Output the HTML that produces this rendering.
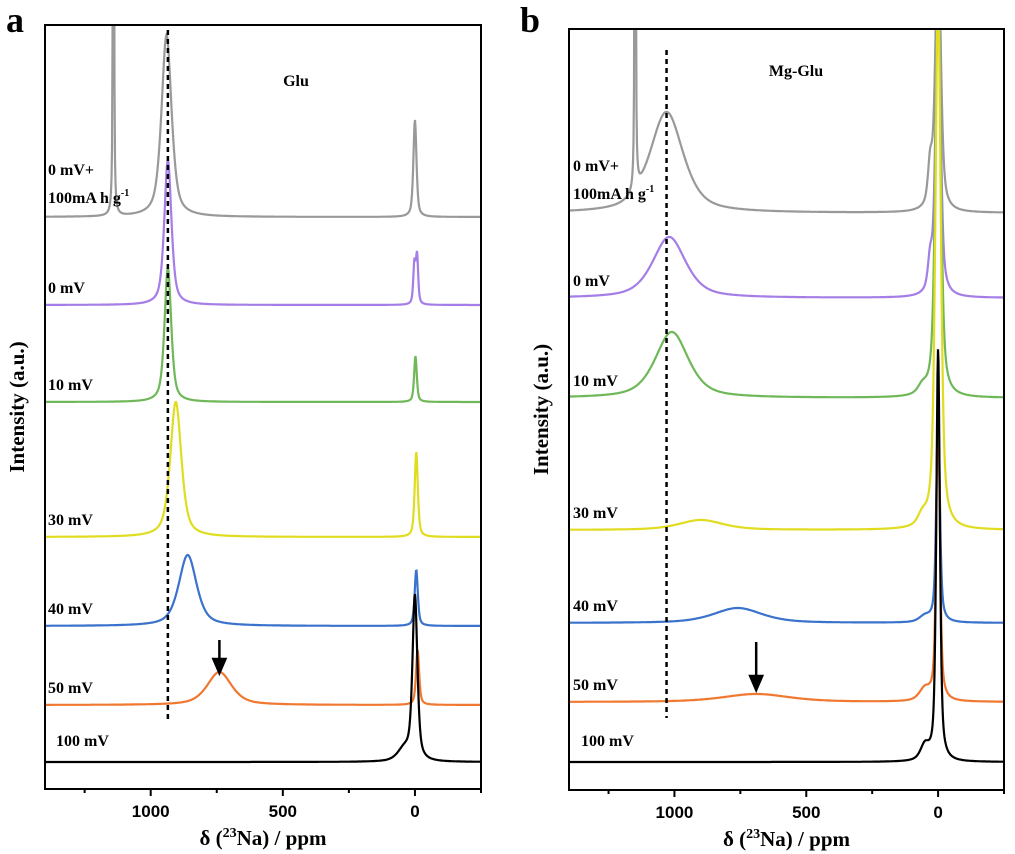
<!DOCTYPE html>
<html><head><meta charset="utf-8"><style>
body{margin:0;background:#fff;width:1015px;height:854px;overflow:hidden}
svg{display:block}
.tk{font:bold 17px "Liberation Sans",sans-serif}
.lb{font:bold 16px "Liberation Serif",serif}
.ax{font:bold 21px "Liberation Serif",serif}
</style></head><body>
<svg id="s" width="1015" height="854"></svg>
<script>
// ----- data: panel a (Glu) -----
const labelsA = ["0 mV+","0 mV","10 mV","30 mV","40 mV","50 mV","100 mV"];
const colorsA = ["#999999","#a47ee6","#6fb85a","#e0dc20","#3a72cc","#f07830","#000000"];
const offsetsA = [572,484,387,252,163,84,27];
// peaks: [center ppm, amplitude, FWHM ppm]
const peaksA = [
 [[940,182,45],[1141,900,4],[0,97,14]],
 [[935,145,32],[2,40,10],[-8,48,10]],
 [[935,134,30],[-2,46,12]],
 [[905,135,50],[-5,85,14]],
 [[860,71,80],[-5,56,14]],
 [[740,33,110],[-10,55,14]],
 [[0,164,22],[40,12,60]]
];
// ----- data: panel b (Mg-Glu) -----
const labelsB = ["0 mV+","0 mV","10 mV","30 mV","40 mV","50 mV","100 mV"];
const colorsB = ["#999999","#a47ee6","#6fb85a","#e0dc20","#3a72cc","#f07830","#000000"];
const offsetsB = [577,492,392,260,167,88,28];
const peaksB = [
 [[1030,101,150],[1149,900,4],[0,280,24],[30,40,20]],
 [[1020,61,150],[0,320,22],[30,30,20]],
 [[1010,66,150],[0,420,24],[60,8,40]],
 [[900,10,200],[0,540,24],[60,10,40]],
 [[760,15,220],[0,213,16],[50,6,50]],
 [[690,8,300],[0,302,16],[50,12,50]],
 [[0,412,16],[50,15,40]]
];
const tickVals = [1000,500,0];
const minorVals = [1250,750,250,-250];

const S=document.getElementById('s');
const NS='http://www.w3.org/2000/svg';
function mk(t,a,p){const e=document.createElementNS(NS,t);for(const k in a)e.setAttribute(k,a[k]);(p||S).appendChild(e);return e;}

function panel(id,L,R,T,B,labels,colors,offsets,peaks,labX,title,titleX,titleY,dashPpm,dashT,dashB,arrowPpm,arrowT,arrowB,ylabX,letter,letterX){
  const g=mk('g',{});
  
  
  const xS=p=>L+(1400-p)/1650*(R-L);
  const yS=v=>B-v;
  const cp=mk('clipPath',{id:'c'+id},g);
  mk('rect',{x:L,y:T,width:R-L,height:B-T},cp);
  for(let i=0;i<offsets.length;i++){
    let d='';
    for(let px=L;px<=R;px+=0.5){
      const p=1400-(px-L)/(R-L)*1650;
      let v=offsets[i];
      for(const pk of peaks[i]){const h=pk[2]/2;const z=(p-pk[0])/h;
        v+=pk[1]*(0.6/(1+z*z)+0.4*Math.exp(-0.693*z*z));}
      d+=(d?'L':'M')+xS(p).toFixed(1)+','+yS(v).toFixed(1);
    }
    const path=mk('path',{d:d,fill:'none',stroke:colors[i],'stroke-width':2.2,'clip-path':'url(#c'+id+')'},g);
    
    
  }
  for(let i=0;i<labels.length;i++){
    const y=B-offsets[i]-12;
    if(i===0){
      const t=mk('text',{x:labX,y:y-30,class:'lb'},g);t.textContent='0 mV+';
      
      const t2=mk('text',{x:labX,y:y-2,class:'lb'},g);
      t2.innerHTML='100mA h g<tspan dy="-7" font-size="10">-1</tspan>';
      
    } else {
      const t=mk('text',{x:labX+(i===6?8:0),y:y-(i===6?4:0),class:'lb'},g);t.textContent=labels[i];
      
      
    }
  }
  const f=mk('rect',{x:L,y:T,width:R-L,height:B-T,fill:'none',stroke:'#000','stroke-width':2},g);
  
  for(const v of tickVals){
    mk('line',{x1:xS(v),x2:xS(v),y1:B,y2:B+7,stroke:'#000','stroke-width':2},g);
    const t=mk('text',{x:xS(v),y:B+28,'text-anchor':'middle',class:'tk'},g);t.textContent=v;
    
  }
  for(const v of minorVals){mk('line',{x1:xS(v),x2:xS(v),y1:B,y2:B+4,stroke:'#000','stroke-width':2},g);}
  const xt=mk('text',{x:(L+R)/2,y:B+56,'text-anchor':'middle',class:'ax'},g);
  xt.innerHTML='δ (<tspan dy="-8" font-size="14">23</tspan><tspan dy="8">Na) / ppm</tspan>';
  
  const yt=mk('text',{x:0,y:0,transform:`translate(${ylabX},${(T+B)/2}) rotate(-90)`,'text-anchor':'middle',class:'ax'},g);
  yt.textContent='Intensity (a.u.)';
  
  const tt=mk('text',{x:titleX,y:titleY,'text-anchor':'middle',class:'lb'},g);tt.textContent=title;
  
  const dl=mk('line',{x1:xS(dashPpm),x2:xS(dashPpm),y1:dashT,y2:dashB,stroke:'#000','stroke-width':2.5,'stroke-dasharray':'5,4'},g);
  
  const ax=xS(arrowPpm);
  const ar=mk('path',{d:`M${ax},${arrowT}V${arrowB-12}M${ax-6},${arrowB-14}L${ax},${arrowB}L${ax+6},${arrowB-14}Z`,stroke:'#000','stroke-width':2.5,fill:'#000'},g);
  
  const lt=mk('text',{x:letterX,y:32,style:'font:bold 36px "Liberation Serif",serif'},g);lt.textContent=letter;
  
}
panel('a',45,481,25,789,labelsA,colorsA,offsetsA,peaksA,48,'Glu',296,86,935,30,720,740,640,673,24,'a',6);
panel('b',569,1004,29,790,labelsB,colorsB,offsetsB,peaksB,573,'Mg-Glu',796,76,1030,50,718,690,642,690,548,'b',520);
</script>
</body></html>
